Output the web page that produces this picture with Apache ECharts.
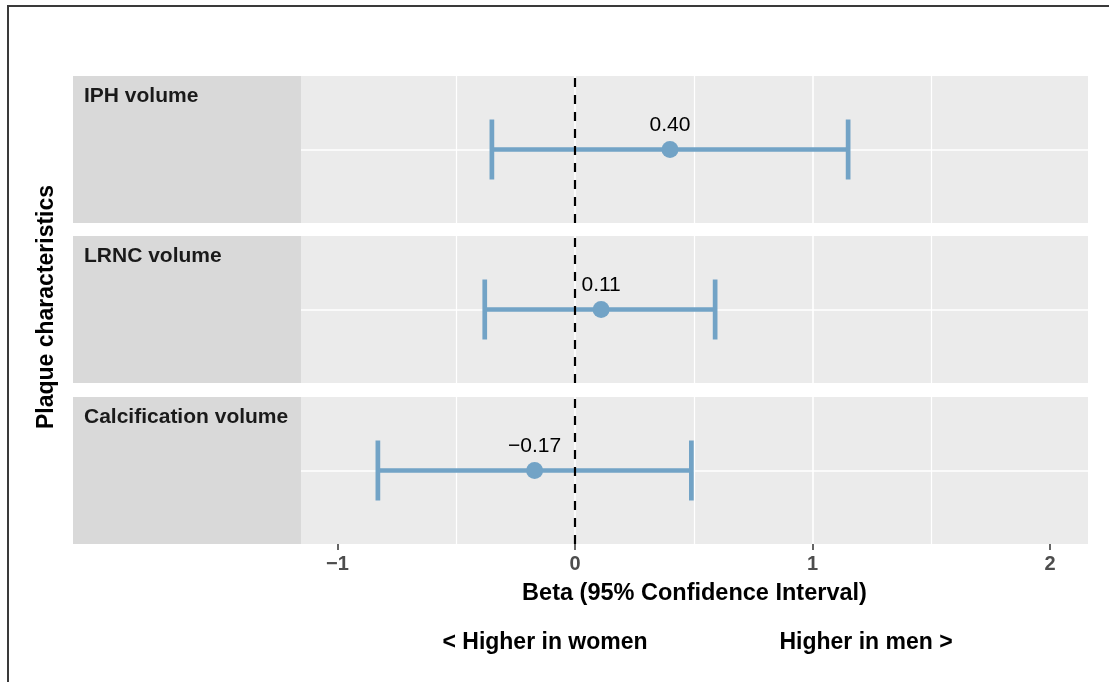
<!DOCTYPE html>
<html>
<head>
<meta charset="utf-8">
<script src="https://cdn.jsdelivr.net/npm/echarts@6/dist/echarts.min.js"></script>
<style>
html,body{margin:0;padding:0;background:#fff;}
#chart{width:1109px;height:682px;}
</style>
</head>
<body>
<div id="chart"></div>
<script>
// ---- data ----
const categories = ['IPH volume', 'LRNC volume', 'Calcification volume'];
const estimates = [0.40, 0.11, -0.17];
const lowerCI = [-0.35, -0.38, -0.83];
const upperCI = [1.15, 0.59, 0.49];
const pointLabels = ['0.40', '0.11', '\u22120.17'];
const xTicks = [-1, 0, 1, 2];
const xTickLabels = ['\u22121', '0', '1', '2'];
const xTitle = 'Beta (95% Confidence Interval)';
const yTitle = 'Plaque characteristics';
const leftNote = '< Higher in women';
const rightNote = 'Higher in men >';

// ---- layout / style ----
const FONT = '"Liberation Sans", Arial, Helvetica, sans-serif';
const BAR = '#72a3c6';
const panelTops = [76, 236, 397];
const panelH = 147;
const plotLeft = 301, plotRight = 1109 - 1088;
const stripLeft = 73, stripW = 228;
const xMin = -1.1537, xMax = 2.16;

const chart = echarts.init(document.getElementById('chart'), null, {renderer: 'canvas'});

const grids = [], xAxes = [], yAxes = [], series = [], titles = [];
categories.forEach((cat, i) => {
  grids.push({left: plotLeft, right: plotRight, top: panelTops[i], height: panelH,
    show: true, backgroundColor: '#ebebeb', borderWidth: 0, containLabel: false});
});
categories.forEach((cat, i) => {
  grids.push({left: stripLeft, width: stripW, top: panelTops[i], height: panelH,
    show: true, backgroundColor: '#d9d9d9', borderWidth: 0, containLabel: false});
});

categories.forEach((cat, i) => {
  const last = i === categories.length - 1;
  xAxes.push({
    gridIndex: i, type: 'value', min: xMin, max: xMax,
    minInterval: 1, maxInterval: 1,
    axisLine: {show: false},
    axisTick: {show: last, customValues: xTicks, length: 6, lineStyle: {color: '#333', width: 1.5}},
    axisLabel: {show: last, customValues: xTicks, margin: 10,
      formatter: v => { const k = xTicks.indexOf(Math.round(v * 1000) / 1000); return k >= 0 ? xTickLabels[k] : ''; },
      color: '#4d4d4d', fontFamily: FONT, fontSize: 20, fontWeight: 'bold'},
    splitLine: {show: true, showMinLine: false, showMaxLine: false, lineStyle: {color: '#ffffff', width: 1.6}},
    minorTick: {show: false, splitNumber: 2},
    minorSplitLine: {show: true, lineStyle: {color: '#ffffff', width: 1.2}},
    name: last ? xTitle : '', nameLocation: 'middle', nameGap: 38,
    nameTextStyle: {color: '#000', fontFamily: FONT, fontSize: 23.5, fontWeight: 'bold'}
  });
  yAxes.push({
    gridIndex: i, type: 'value', min: 0, max: 2, interval: 1,
    axisLine: {show: false}, axisTick: {show: false}, axisLabel: {show: false},
    splitLine: {show: true, showMinLine: false, showMaxLine: false, lineStyle: {color: '#ffffff', width: 1.6}}
  });
});
categories.forEach((cat, i) => {
  xAxes.push({gridIndex: 3 + i, type: 'value', show: false, min: 0, max: 1, splitLine: {show: false}});
  yAxes.push({gridIndex: 3 + i, type: 'value', show: false, min: 0, max: 1, splitLine: {show: false}});
  titles.push({text: cat, left: 79, top: panelTops[i] + 5,
    textStyle: {fontFamily: FONT, fontSize: 21, fontWeight: 'bold', color: '#1a1a1a'}});
});

categories.forEach((cat, i) => {
  series.push({
    type: 'custom', xAxisIndex: i, yAxisIndex: i, z: 2, silent: true,
    data: [[lowerCI[i], upperCI[i], estimates[i], 1]],
    encode: {x: [0, 1], y: 3},
    renderItem: (params, api) => {
      const lo = api.coord([api.value(0), api.value(3)]);
      const hi = api.coord([api.value(1), api.value(3)]);
      const st = {stroke: BAR, lineWidth: 4.7, lineCap: 'butt'};
      const cap = 30;
      return {type: 'group', children: [
        {type: 'line', shape: {x1: lo[0], y1: lo[1], x2: hi[0], y2: hi[1]}, style: st},
        {type: 'line', shape: {x1: lo[0], y1: lo[1] - cap, x2: lo[0], y2: lo[1] + cap}, style: st},
        {type: 'line', shape: {x1: hi[0], y1: hi[1] - cap, x2: hi[0], y2: hi[1] + cap}, style: st}
      ]};
    }
  });
  series.push({
    type: 'scatter', xAxisIndex: i, yAxisIndex: i, z: 3, silent: true,
    data: [[estimates[i], 1]], symbol: 'circle', symbolSize: 17,
    itemStyle: {color: BAR, opacity: 1},
    label: {show: true, position: 'top', distance: 5, formatter: () => pointLabels[i],
      color: '#000', fontFamily: FONT, fontSize: 21},
    markLine: {silent: true, symbol: 'none', animation: false,
      label: {show: false},
      lineStyle: {color: '#000', type: [9, 8], width: 2.2},
      data: [{xAxis: 0}]}
  });
});

chart.setOption({
  animation: false,
  backgroundColor: '#ffffff',
  title: titles,
  grid: grids,
  xAxis: xAxes,
  yAxis: yAxes,
  series: series,
  graphic: [
    {type: 'rect', shape: {x: 8, y: 6, width: 1200, height: 800}, style: {fill: 'none', stroke: '#3a3a3a', lineWidth: 2}, silent: true},
    {type: 'text', x: 47, y: 307, rotation: Math.PI / 2,
      style: {text: yTitle, fontFamily: FONT, fontSize: 23, fontWeight: 'bold', fill: '#000', align: 'center', verticalAlign: 'middle'}},
    {type: 'text', x: 545, y: 643,
      style: {text: leftNote, fontFamily: FONT, fontSize: 23, fontWeight: 'bold', fill: '#000', align: 'center', verticalAlign: 'middle'}},
    {type: 'text', x: 866, y: 643,
      style: {text: rightNote, fontFamily: FONT, fontSize: 23, fontWeight: 'bold', fill: '#000', align: 'center', verticalAlign: 'middle'}}
  ]
});
</script>
</body>
</html>
